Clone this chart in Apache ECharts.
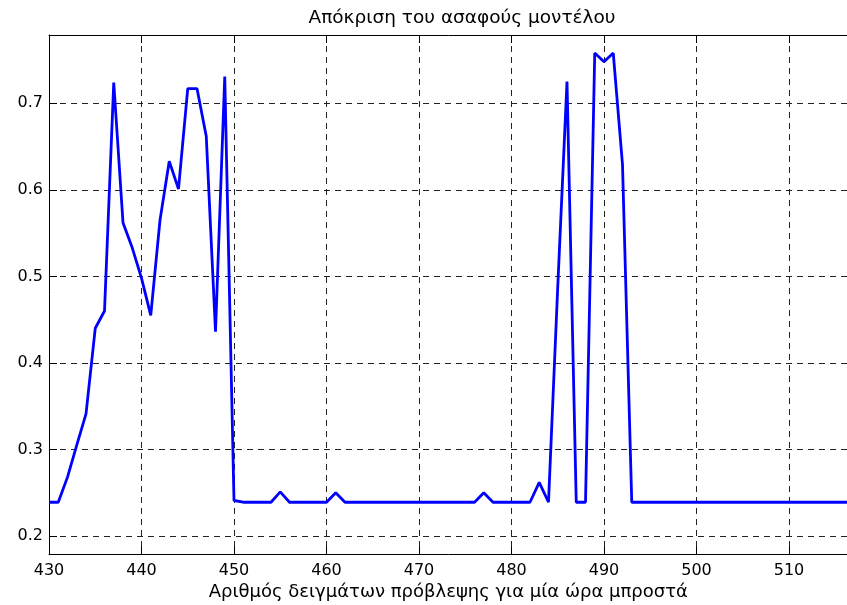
<!DOCTYPE html>
<html>
<head>
<meta charset="utf-8">
<script src="https://cdn.jsdelivr.net/npm/echarts@6/dist/echarts.min.js"></script>
<style>
  html, body { margin: 0; padding: 0; background: #fff; }
  #main { width: 847px; height: 605px; }
</style>
</head>
<body>
<div id="main"></div>
<script>
// Απόκριση του ασαφούς μοντέλου
var titleText = 'Απόκριση του ασαφούς μοντέλου';
var xName = 'Αριθμός δειγμάτων πρόβλεψης για μία ώρα μπροστά';

var firstSample = 430;
// τιμές ανά δείγμα, 430 ... 520
var response = [
    0.239, 0.239, 0.268, 0.305, 0.341, 0.440, 0.460, 0.724, 0.562, 0.533, // 430-439
    0.498, 0.455, 0.565, 0.633, 0.601, 0.717, 0.717, 0.662, 0.436, 0.731, // 440-449
    0.241, 0.239, 0.239, 0.239, 0.239, 0.251, 0.239, 0.239, 0.239, 0.239, // 450-459
    0.239, 0.250, 0.239, 0.239, 0.239, 0.239, 0.239, 0.239, 0.239, 0.239, // 460-469
    0.239, 0.239, 0.239, 0.239, 0.239, 0.239, 0.239, 0.250, 0.239, 0.239, // 470-479
    0.239, 0.239, 0.239, 0.262, 0.239, 0.488, 0.725, 0.239, 0.239, 0.758, // 480-489
    0.748, 0.758, 0.629, 0.239, 0.239, 0.239, 0.239, 0.239, 0.239, 0.239, // 490-499
    0.239, 0.239, 0.239, 0.239, 0.239, 0.239, 0.239, 0.239, 0.239, 0.239, // 500-509
    0.239, 0.239, 0.239, 0.239, 0.239, 0.239, 0.239, 0.239, 0.239, 0.239, // 510-519
    0.239                                                                  // 520
];
var yTicks = [0.2, 0.3, 0.4, 0.5, 0.6, 0.7];

var lineData = [];
for (var i = 0; i < response.length; i++) {
    lineData.push([firstSample + i, response[i]]);
}

var font = 'DejaVu Sans';
var gridDash = {
    show: true,
    lineStyle: { color: '#222', width: 1, type: [6, 5] }
};

var oChart = echarts.init(document.getElementById('main'));
var chartopt = {
    animation: false,
    backgroundColor: '#fff',
    title: {
        text: titleText,
        left: 457,
        textAlign: 'center',
        top: 4,
        textStyle: { fontFamily: font, fontSize: 18.5, fontWeight: 'normal', color: '#000' }
    },
    grid: {
        left: 49,
        top: 35,
        bottom: 50.5,
        right: -34.5,
        outerBoundsMode: 'none',
        containLabel: false
    },
    xAxis: [{
        type: 'value',
        position: 'bottom',
        min: 430,
        max: 520,
        interval: 10,
        name: xName,
        nameLocation: 'middle',
        nameGap: 29,
        nameTextStyle: { fontFamily: font, fontSize: 18, color: '#000', padding: [0, 0, 0, -34] },
        axisLine: { show: true, onZero: false, lineStyle: { color: '#000', width: 1 } },
        axisTick: { show: true, inside: true, length: 8, lineStyle: { color: '#000' } },
        axisLabel: { fontFamily: font, fontSize: 16, color: '#000', margin: 8 },
        splitLine: gridDash
    }, {
        type: 'value',
        position: 'top',
        min: 430,
        max: 520,
        interval: 10,
        axisLine: { show: true, onZero: false, lineStyle: { color: '#000', width: 1 } },
        axisTick: { show: true, inside: true, length: 8, lineStyle: { color: '#000' } },
        axisLabel: { show: false },
        splitLine: { show: false }
    }],
    yAxis: [{
        type: 'value',
        min: 0.1786,
        max: 0.7789,
        axisLine: { show: true, onZero: false, lineStyle: { color: '#000', width: 1 } },
        axisTick: { show: true, inside: true, length: 8, customValues: yTicks, lineStyle: { color: '#000' } },
        axisLabel: {
            fontFamily: font, fontSize: 16, color: '#000', margin: 6,
            customValues: yTicks,
            formatter: function (v) { return v.toFixed(1); }
        },
        splitLine: gridDash
    }],
    series: [{
        name: 'response',
        type: 'line',
        xAxisIndex: 0,
        yAxisIndex: 0,
        showSymbol: false,
        symbol: 'none',
        clip: true,
        lineStyle: { color: '#0000ff', width: 2.8 },
        data: lineData
    }]
};

oChart.setOption(chartopt);
</script>
</body>
</html>
